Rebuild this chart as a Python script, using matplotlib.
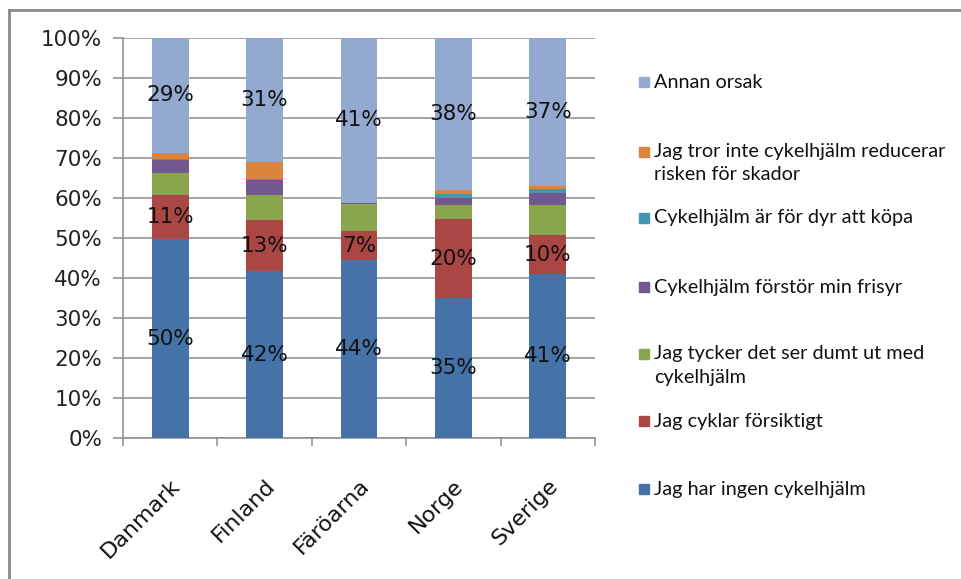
import numpy as np
import matplotlib.pyplot as plt
from matplotlib.patches import Rectangle
from matplotlib.lines import Line2D

# Data (percent of respondents per country)
lander = ['Danmark', 'Finland', 'Färöarna', 'Norge', 'Sverige']
kategorier = [
    'Jag har ingen cykelhjälm',
    'Jag cyklar försiktigt',
    'Jag tycker det ser dumt ut med\ncykelhjälm',
    'Cykelhjälm förstör min frisyr',
    'Cykelhjälm är för dyr att köpa',
    'Jag tror inte cykelhjälm reducerar\nrisken för skador',
    'Annan orsak',
]
ingen_hjalm = [49.7, 41.7, 44.4, 34.9, 40.9]
forsiktigt = [11.0, 12.8, 7.3, 19.9, 9.8]
ser_dumt = [5.5, 6.3, 6.8, 3.4, 7.6]
frisyr = [3.3, 3.6, 0.3, 1.9, 2.9]
for_dyr = [0.3, 0.3, 0.0, 1.0, 1.1]
reducerar_ej = [1.5, 4.2, 0.0, 0.8, 0.7]
annan = [28.7, 31.1, 41.2, 38.1, 37.0]

serier = [ingen_hjalm, forsiktigt, ser_dumt, frisyr, for_dyr, reducerar_ej, annan]
farger = ['#4572A7', '#AA4643', '#89A54E', '#71588F', '#4198AF', '#DB843D', '#93A9CF']
# which segments carry a value label (series index)
med_etikett = [0, 1, 6]

W, H = 961, 579
fig = plt.figure(figsize=(W / 100, H / 100), dpi=100)
ax = fig.add_axes([123 / W, 1 - 438 / H, (595 - 123) / W, 400 / H])

x = np.arange(len(lander))
botten = np.zeros(len(lander))
for i, (varden, farg) in enumerate(zip(serier, farger)):
    varden = np.array(varden)
    ax.bar(x, varden, 0.39, bottom=botten, color=farg, zorder=3)
    if i in med_etikett:
        for xi, b, v in zip(x, botten, varden):
            ax.text(xi, b + v / 2, f'{round(v):.0f}%', ha='center', va='center',
                    fontsize=15.5, color='#111111', zorder=4)
    botten += varden

ax.set_xlim(-0.5, len(lander) - 0.5)
ax.set_ylim(0, 100)
ax.set_yticks(np.arange(0, 101, 10))
ax.set_yticklabels([f'{v}%' for v in range(0, 101, 10)], fontsize=15.5, color='#222222')
ax.yaxis.grid(True, color='#8c8c8c', linewidth=1.1, zorder=0)
ax.set_xticks(x)
ax.set_xticklabels(lander, rotation=45, ha='right', rotation_mode='anchor',
                   fontsize=16, color='#111111')
ax.set_xticks(np.arange(-0.5, len(lander)), minor=True)
ax.tick_params(axis='x', which='major', length=0, pad=27)
ax.tick_params(axis='x', which='minor', length=6, color='#8c8c8c', width=1.1)
ax.tick_params(axis='y', length=7, color='#8c8c8c', width=1.1, pad=8)
for s in ['top', 'right']:
    ax.spines[s].set_visible(False)
for s in ['left', 'bottom']:
    ax.spines[s].set_color('#8c8c8c')
    ax.spines[s].set_linewidth(1.1)

# Legend drawn by hand to mimic the spread-out spreadsheet layout
legend_y = [489, 421, 354, 287, 218, 152, 82]
for namn, farg, ly in zip(kategorier, farger, legend_y):
    fig.patches.append(Rectangle((639 / W, 1 - (ly + 5) / H), 10 / W, 10 / H,
                                 transform=fig.transFigure, color=farg))
    for k, rad in enumerate(namn.split('\n')):
        fig.text(654 / W, 1 - (ly + 23 * k) / H, rad, fontsize=14.3, family='Lato',
                 va='center', ha='left', color='#111111')

# outer frame (left and top edge only visible)
fig.add_artist(Line2D([9 / W, 9 / W], [0, 1 - 10 / H], transform=fig.transFigure,
                      color='#8a8a8a', linewidth=2))
fig.add_artist(Line2D([9 / W, 1], [1 - 10 / H, 1 - 10 / H], transform=fig.transFigure,
                      color='#8a8a8a', linewidth=2))

fig.savefig('out.png', dpi=100)
